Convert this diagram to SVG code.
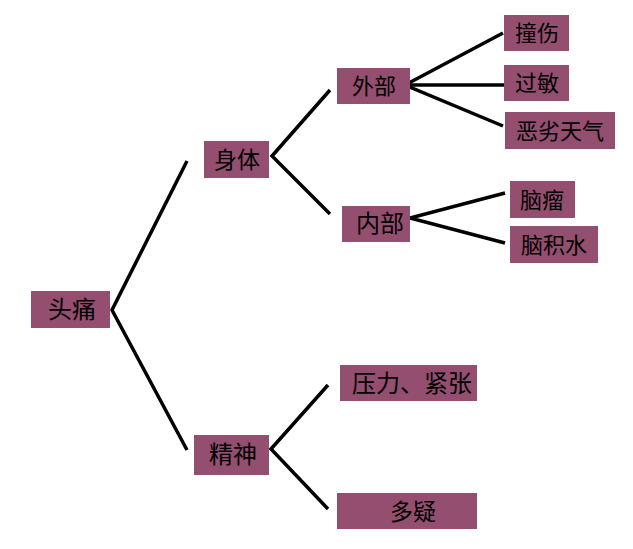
<svg xmlns="http://www.w3.org/2000/svg" width="633" height="549" viewBox="0 0 633 549">
<style>
.box{fill:#944E6F}
.t{font-family:"Noto Sans CJK SC","Noto Sans",sans-serif;fill:#000;text-anchor:middle}
.ln{stroke:#000;stroke-width:3.5;fill:none;stroke-linecap:butt;stroke-linejoin:miter}
</style>
<rect width="633" height="549" fill="#fff"/>
<g id="connectors">
<polyline class="ln" points="187,161 112,310 187,450"/>
<polyline class="ln" points="330,90 272,156 330,214"/>
<polyline class="ln" points="503,33 405,85 503,126"/>
<line class="ln" x1="405" y1="85" x2="504" y2="85"/>
<polyline class="ln" points="505,193 410,218 505,243"/>
<polyline class="ln" points="328,385 271,449 328,509"/>
</g>
<g id="n-toutong"><rect class="box" x="31" y="291" width="79" height="37"/><text class="t" x="72" y="318" font-size="24">头痛</text></g>
<g id="n-shenti"><rect class="box" x="204" y="141" width="65" height="37"/><text class="t" x="237" y="168" font-size="23">身体</text></g>
<g id="n-jingshen"><rect class="box" x="194" y="435" width="75" height="40"/><text class="t" x="233" y="463" font-size="24">精神</text></g>
<g id="n-waibu"><rect class="box" x="337" y="68" width="73" height="36"/><text class="t" x="374" y="94" font-size="22">外部</text></g>
<g id="n-neibu"><rect class="box" x="342" y="206" width="68" height="36"/><text class="t" x="380" y="232" font-size="24">内部</text></g>
<g id="n-zhuangshang"><rect class="box" x="504" y="15" width="65" height="36"/><text class="t" x="537" y="41" font-size="22">撞伤</text></g>
<g id="n-guomin"><rect class="box" x="504" y="65" width="65" height="36"/><text class="t" x="537" y="91" font-size="22">过敏</text></g>
<g id="n-elietianqi"><rect class="box" x="505" y="112" width="110" height="37"/><text class="t" x="560" y="139" font-size="22">恶劣天气</text></g>
<g id="n-naoliu"><rect class="box" x="510" y="181" width="65" height="37"/><text class="t" x="542" y="208" font-size="22">脑瘤</text></g>
<g id="n-naojishui"><rect class="box" x="510" y="226" width="88" height="37"/><text class="t" x="554" y="253" font-size="22">脑积水</text></g>
<g id="n-yali"><rect class="box" x="340" y="365" width="137" height="36"/><text class="t" x="412" y="392" font-size="24">压力、紧张</text></g>
<g id="n-duoyi"><rect class="box" x="337" y="493" width="140" height="36"/><text class="t" x="413" y="520" font-size="23">多疑</text></g>
</svg>
